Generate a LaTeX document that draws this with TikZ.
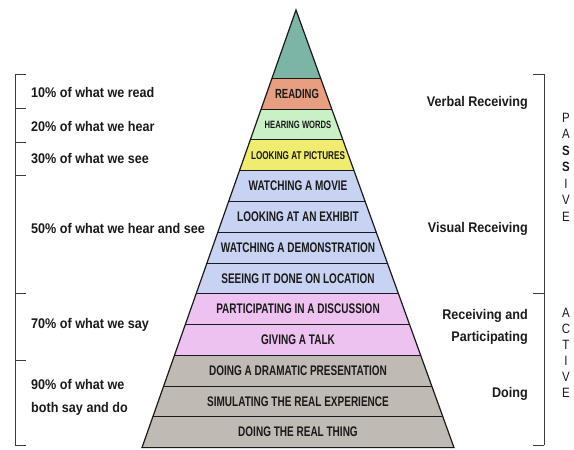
\documentclass[tikz,border=0pt]{standalone}
\usepackage{fontspec}
\setmainfont{Liberation Sans}
\newfontfamily\rowfont[FakeStretch=0.72]{Liberation Sans}
\newfontfamily\sidefont[FakeStretch=0.9]{Liberation Sans}
\newfontfamily\letterfont[FakeStretch=0.85]{Liberation Sans}

\definecolor{apexteal}{RGB}{124,180,166}
\definecolor{readsalmon}{RGB}{232,158,128}
\definecolor{heargreen}{RGB}{202,240,198}
\definecolor{lookyellow}{RGB}{240,236,112}
\definecolor{visblue}{RGB}{200,210,242}
\definecolor{saypink}{RGB}{238,194,240}
\definecolor{dogray}{RGB}{192,186,180}
\definecolor{inkdark}{RGB}{26,26,26}

\tikzset{
  rowlabel/.style={text=inkdark, inner sep=0pt, anchor=center,
    font=\rowfont\bfseries\fontsize{#1}{#1}\selectfont},
  rowlabel/.default=13.9,
  leftlabel/.style={text=inkdark, inner sep=0pt, anchor=west, align=left,
    font=\sidefont\bfseries\fontsize{14}{23}\selectfont},
  rightlabel/.style={text=inkdark, inner sep=0pt, anchor=east, align=right,
    font=\sidefont\bfseries\fontsize{14}{22}\selectfont},
  vletters/.style={text=inkdark, inner sep=0pt, align=center,
    font=\letterfont\fontsize{13.5}{#1}\selectfont},
  separator/.style={draw=inkdark, line width=0.9pt},
  outline/.style={draw=inkdark, line width=1.2pt, line join=miter},
  bracket/.style={draw=inkdark!85, line width=0.9pt}
}

\begin{document}
\begin{tikzpicture}[x=1pt,y=-1pt]
  \useasboundingbox (0,0) rectangle (574,450);

  % pyramid corners
  \coordinate (apex) at (296,10);
  \coordinate (bl) at (142,447.6);
  \coordinate (br) at (454,447.6);

  % bands, clipped to the triangle
  \begin{scope}
    \clip (apex) -- (bl) -- (br) -- cycle;
    \fill[apexteal] (0,0) rectangle (574,78.4);
    \foreach \c [count=\i from 0] in {readsalmon,heargreen,lookyellow,
        visblue,visblue,visblue,visblue,saypink,saypink,dogray,dogray,dogray}{
      \pgfmathsetmacro{\ytop}{78.4+\i*30.77}
      \pgfmathsetmacro{\ybot}{78.4+(\i+1)*30.77}
      \fill[\c] (0,\ytop) rectangle (574,\ybot);
    }
    \foreach \i in {0,...,11}{
      \pgfmathsetmacro{\ytop}{78.4+\i*30.77}
      \draw[separator] (0,\ytop) -- (574,\ytop);
    }
  \end{scope}
  \draw[outline] (apex) -- (bl) -- (br) -- cycle;

  % band labels
  \node[rowlabel=13.2] (r0)  at (297,93.8)  {READING};
  \node[rowlabel=10.6] (r1)  at (298,124.5) {HEARING WORDS};
  \node[rowlabel=11.3] (r2)  at (298,155.3) {LOOKING AT PICTURES};
  \node[rowlabel]      (r3)  at (298,186.1) {WATCHING A MOVIE};
  \node[rowlabel]      (r4)  at (298,216.8) {LOOKING AT AN EXHIBIT};
  \node[rowlabel]      (r5)  at (298,247.6) {WATCHING A DEMONSTRATION};
  \node[rowlabel]      (r6)  at (298,278.4) {SEEING IT DONE ON LOCATION};
  \node[rowlabel]      (r7)  at (298,309.1) {PARTICIPATING IN A DISCUSSION};
  \node[rowlabel]      (r8)  at (298,339.9) {GIVING A TALK};
  \node[rowlabel]      (r9)  at (298,370.7) {DOING A DRAMATIC PRESENTATION};
  \node[rowlabel]      (r10) at (298,401.4) {SIMULATING THE REAL EXPERIENCE};
  \node[rowlabel]      (r11) at (298,432.2) {DOING THE REAL THING};

  % left bracket
  \draw[bracket] (15,74) -- (15,445);
  \foreach \y in {74,108,142,175,293,360,445}{
    \draw[bracket] (15,\y) -- (26,\y);
  }
  \node[leftlabel] (p10) at (31,92)  {10\% of what we read};
  \node[leftlabel] (p20) at (31,126) {20\% of what we hear};
  \node[leftlabel] (p30) at (31,159) {30\% of what we see};
  \node[leftlabel] (p50) at (31,228) {50\% of what we hear and see};
  \node[leftlabel] (p70) at (31,325) {70\% of what we say};
  \node[leftlabel] (p90) at (31,397) {90\% of what we\\both say and do};

  % right bracket
  \draw[bracket] (544,74) -- (544,445);
  \foreach \y in {74,293,445}{
    \draw[bracket] (533,\y) -- (544,\y);
  }
  \node[rightlabel] (verbal) at (528,103) {Verbal Receiving};
  \node[rightlabel] (visual) at (528,229) {Visual Receiving};
  \node[rightlabel] (partic) at (528,327) {Receiving and\\Participating};
  \node[rightlabel] (doing)  at (528,394) {Doing};

  \node[vletters=16.5] (passive) at (566,167) {P\\A\\\textbf{S}\\\textbf{S}\\I\\V\\E};
  \node[vletters=16]   (active)  at (566,353) {A\\C\\T\\I\\V\\E};
\end{tikzpicture}
\end{document}
